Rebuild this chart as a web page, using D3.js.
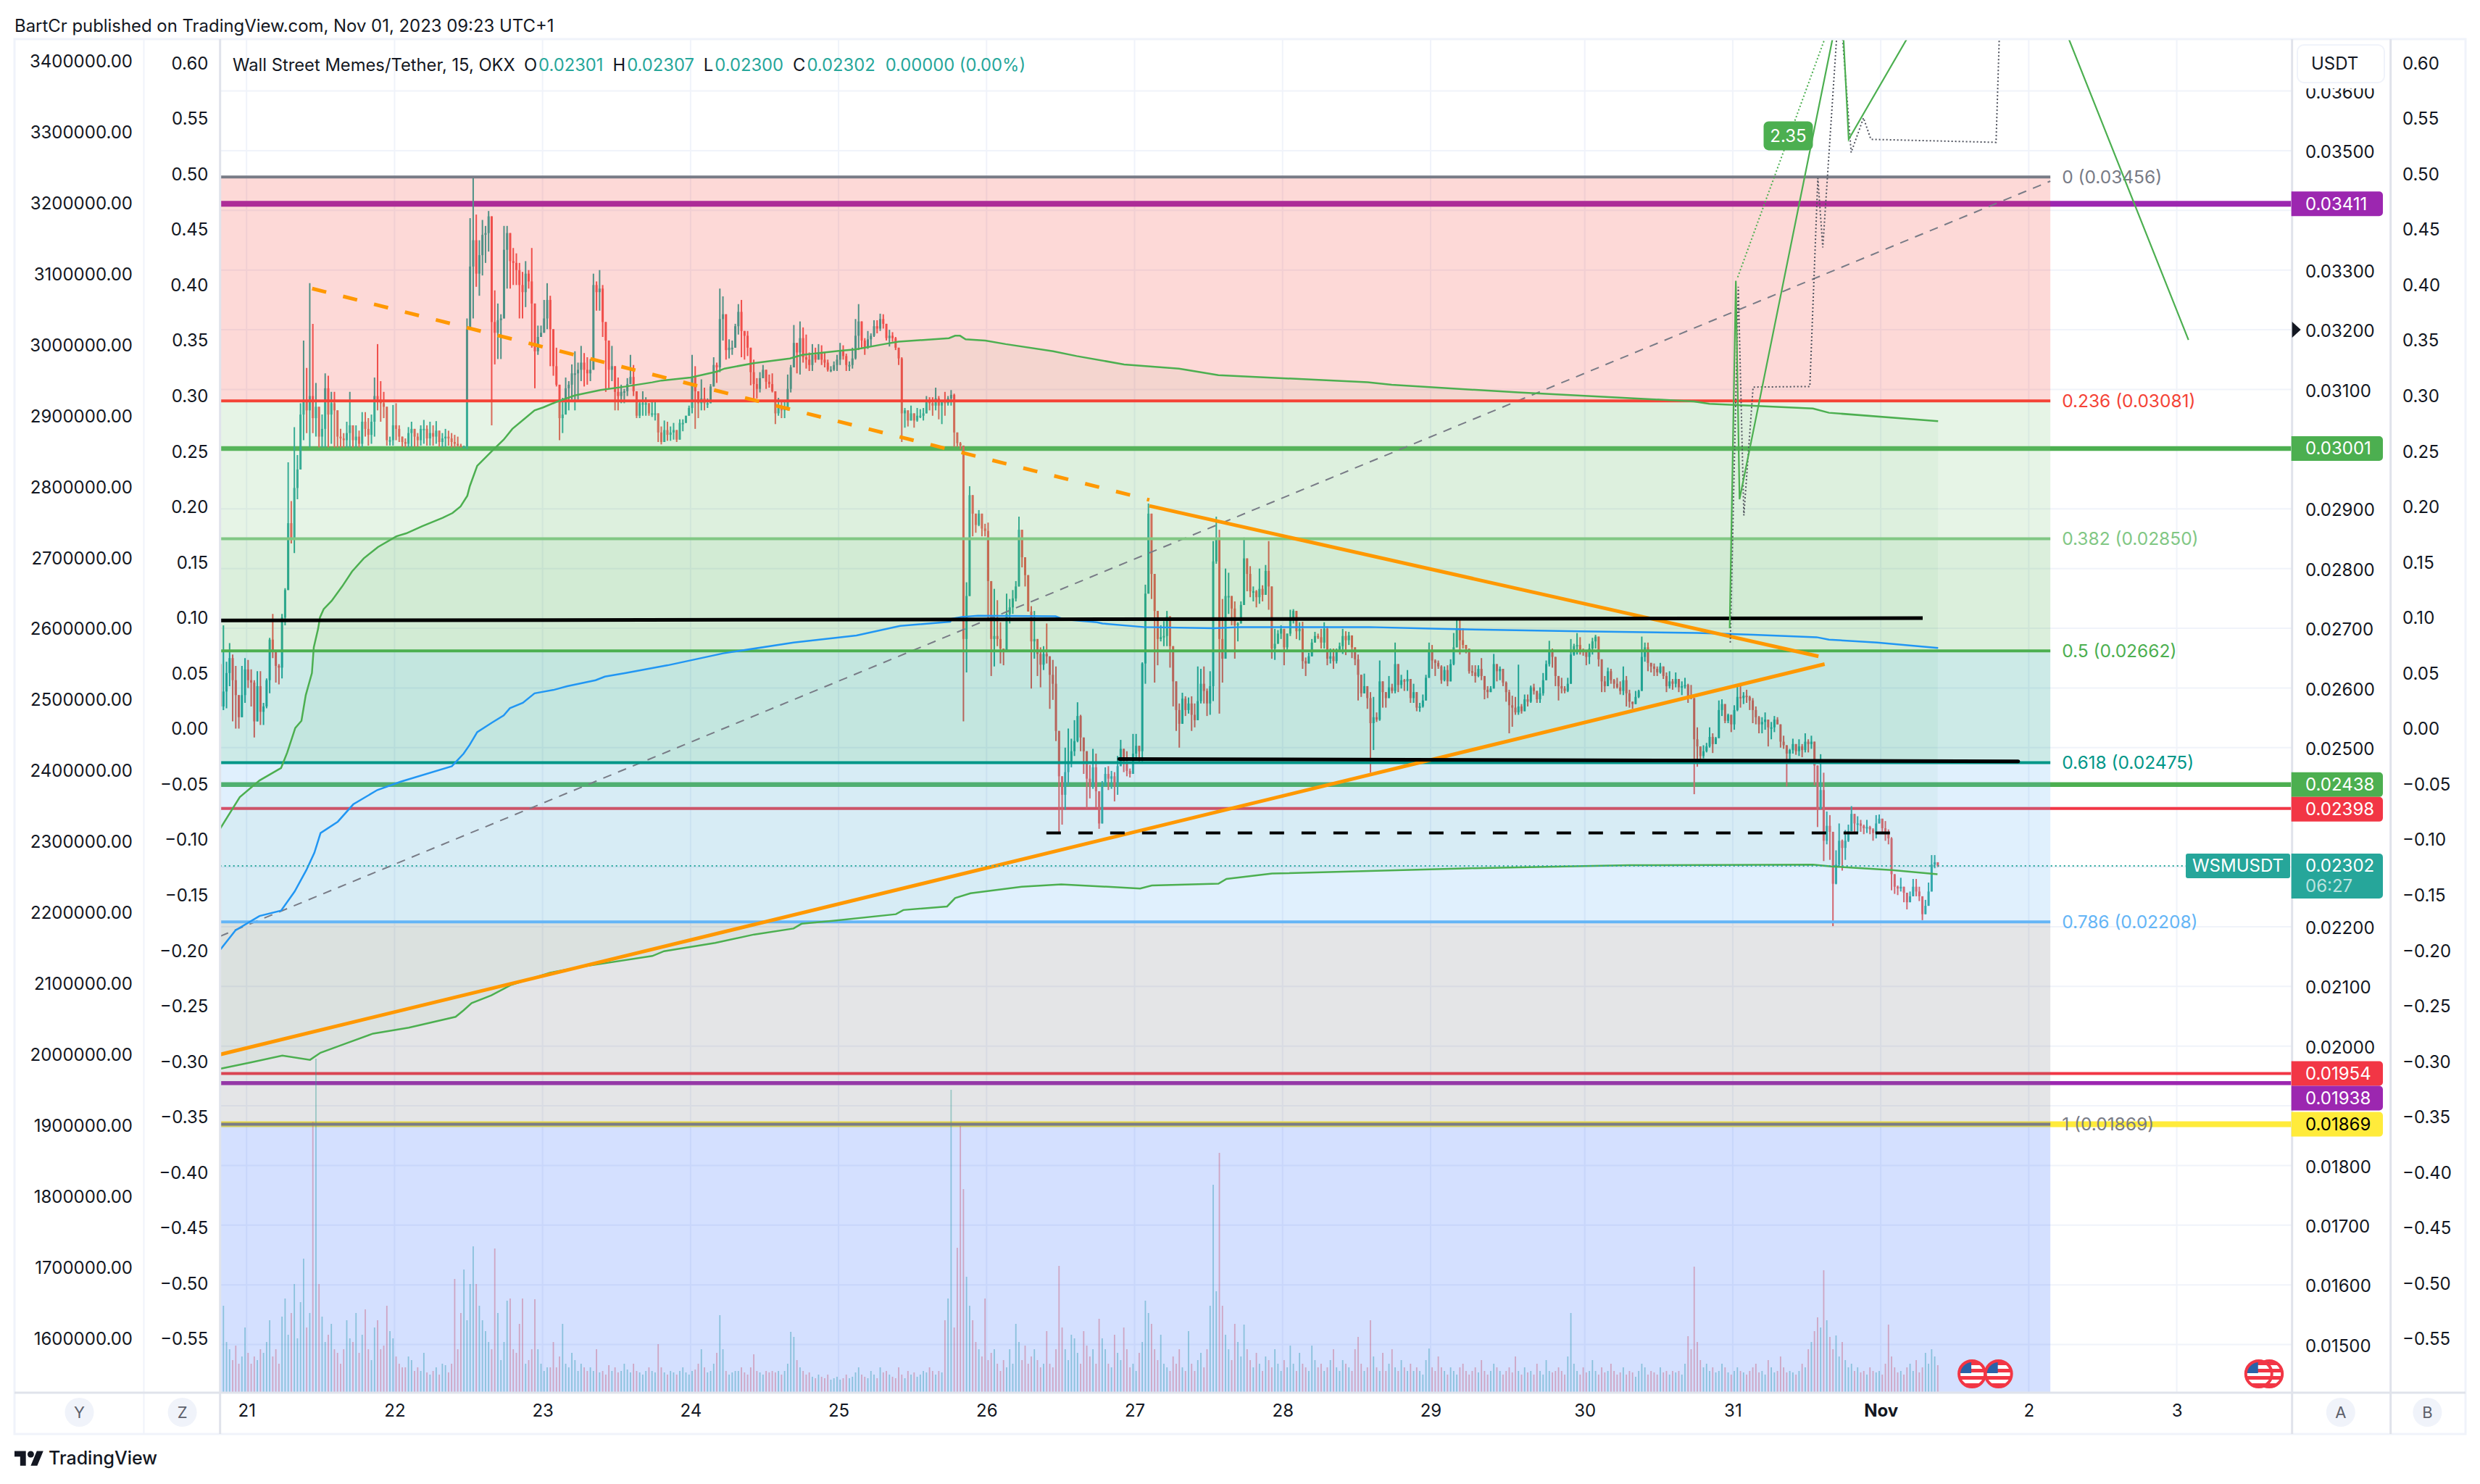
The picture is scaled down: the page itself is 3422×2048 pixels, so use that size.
<!DOCTYPE html>
<html>
<head>
<meta charset="utf-8">
<script src="https://cdnjs.cloudflare.com/ajax/libs/d3/7.8.5/d3.min.js"></script>
<style>
  body { margin: 0; background: #fff; }
  text { font-family: Inter, "Noto Sans", sans-serif; }
</style>
</head>
<body>
<div id="chart"></div>
<script>
// All prices are in units of 0.00001 USDT. Times are hours after Oct 21 00:00 (UTC+1).
const dayTicks = [0, 24, 48, 72, 96, 120, 144, 168, 192, 217, 241, 265, 289, 313];
const dayLabels = ['21', '22', '23', '24', '25', '26', '27', '28', '29', '30', '31', 'Nov', '2', '3'];
const priceTicks = d3.range(1500, 3601, 100);
const leftTicks = d3.range(1600000, 3400001, 100000);
const ratioTicks = d3.range(-11, 13).map(d => d * 5 / 100);

// 30 minute candles, the first one is centred on hour -4.25
const firstCandleHour = -4.25;
const candleStep = 0.5;
const firstOpen = 2640;
const candleHigh = [
  2681,2705,2644,2675,2656,2637,2588,2637,2650,2647,2631,2613,2628,2628,2575,2616,2684,2724,2656,2640,
  2724,2767,2978,2913,3037,2990,3077,3182,3136,3278,3210,3111,3071,3058,3127,3123,3096,3096,3037,3034,
  3027,3046,3096,3040,3040,3031,3062,3062,3052,3058,3120,3176,3114,3096,3058,3021,3074,3077,3040,3021,
  3018,3037,3046,3034,3027,3040,3049,3040,3046,3040,3047,3021,3027,3034,3031,3027,3024,3021,3009,3006,
  3219,3387,3455,3393,3350,3384,3374,3399,3387,3266,3244,3226,3374,3374,3362,3337,3328,3312,3297,3315,
  3300,3337,3188,3207,3207,3250,3278,3257,3198,3170,3105,3086,3120,3114,3142,3164,3145,3173,3161,3154,
  3151,3294,3281,3300,3275,3195,3145,3173,3114,3120,3108,3101,3119,3158,3141,3081,3081,3097,3087,3077,
  3081,3079,3054,3038,3048,3046,3038,3044,3032,3050,3050,3056,3073,3158,3139,3081,3117,3103,3085,3109,
  3154,3145,3269,3256,3218,3184,3182,3210,3243,3250,3198,3198,3164,3150,3119,3129,3141,3127,3125,3127,
  3097,3086,3079,3081,3125,3141,3208,3176,3214,3204,3192,3162,3176,3170,3176,3174,3162,3150,3139,3147,
  3158,3178,3174,3160,3147,3170,3218,3243,3198,3186,3198,3194,3216,3216,3227,3226,3198,3200,3196,3188,
  3168,3154,3069,3065,3073,3060,3069,3067,3069,3089,3087,3087,3103,3089,3081,3096,3089,3099,3093,3022,
  3012,3006,2777,2938,2923,2888,2898,2892,2875,2877,2779,2766,2747,2710,2666,2758,2749,2764,2779,2887,
  2865,2819,2789,2737,2729,2682,2668,2670,2708,2647,2647,2636,2528,2438,2500,2532,2515,2546,2576,2555,
  2513,2494,2471,2498,2490,2421,2444,2467,2469,2461,2459,2486,2513,2492,2494,2465,2523,2523,2503,2643,
  2773,2909,2865,2779,2708,2705,2712,2729,2716,2649,2611,2574,2592,2586,2584,2586,2574,2636,2632,2636,
  2599,2628,2846,2887,2865,2749,2800,2793,2754,2745,2710,2745,2852,2817,2804,2770,2764,2800,2772,2806,
  2846,2739,2699,2697,2705,2691,2691,2731,2732,2703,2710,2711,2651,2659,2682,2694,2691,2699,2710,2703,
  2666,2666,2666,2676,2699,2695,2694,2680,2668,2656,2622,2624,2603,2593,2585,2559,2646,2611,2593,2620,
  2607,2676,2626,2622,2615,2630,2613,2607,2577,2575,2589,2622,2676,2672,2648,2646,2638,2636,2638,2648,
  2692,2715,2715,2700,2672,2666,2638,2638,2638,2650,2613,2603,2603,2657,2636,2636,2632,2611,2597,2587,
  2585,2639,2573,2589,2589,2604,2607,2593,2601,2625,2646,2679,2666,2646,2620,2617,2603,2617,2682,2674,
  2692,2685,2666,2660,2674,2684,2689,2682,2648,2620,2634,2632,2615,2617,2611,2636,2620,2597,2577,2595,
  2597,2686,2676,2676,2640,2641,2636,2642,2632,2626,2628,2615,2626,2615,2611,2617,2607,2605,2583,2534,
  2502,2504,2508,2534,2524,2518,2579,2581,2573,2557,2555,2571,2603,2607,2593,2597,2587,2583,2569,2553,
  2551,2559,2541,2543,2553,2551,2539,2520,2504,2498,2515,2502,2514,2506,2524,2514,2520,2510,2470,2489,
  2458,2393,2387,2328,2328,2373,2346,2362,2371,2402,2389,2385,2379,2371,2379,2369,2365,2387,2388,2377,
  2377,2363,2350,2280,2269,2282,2267,2255,2259,2280,2280,2267,2243,2245,2274,2320,2320,2306
];
const candleLow = [
  2551,2563,2566,2603,2544,2532,2532,2551,2575,2600,2569,2517,2578,2538,2538,2566,2591,2650,2609,2606,
  2616,2705,2842,2842,2826,2916,2972,3015,3027,3003,3027,3021,3003,3003,3003,3003,3009,3003,3003,3003,
  3003,3003,3003,3003,3003,3003,3003,3021,3006,3009,3021,3065,3046,3052,3006,3006,3006,3015,3012,3004,
  3003,3003,3004,3004,3004,3006,3009,3006,3006,3006,3009,3004,3003,3004,3006,3003,3003,3004,3003,3003,
  3000,3201,3219,3272,3257,3291,3312,3331,3040,3142,3151,3151,3263,3269,3269,3275,3275,3219,3219,3238,
  3269,3170,3102,3158,3188,3195,3201,3139,3123,3105,3015,3027,3083,3065,3083,3065,3083,3114,3105,3108,
  3114,3195,3232,3232,3188,3096,3102,3114,3065,3065,3077,3077,3089,3109,3089,3052,3052,3056,3056,3056,
  3054,3048,3012,3008,3012,3014,3014,3016,3012,3028,3030,3048,3060,3060,3034,3052,3065,3065,3069,3081,
  3113,3111,3129,3182,3150,3152,3158,3170,3192,3154,3150,3156,3107,3085,3085,3095,3121,3101,3103,3095,
  3042,3056,3052,3052,3065,3095,3141,3127,3125,3145,3135,3131,3131,3145,3150,3141,3137,3130,3129,3131,
  3131,3141,3150,3131,3131,3135,3150,3166,3170,3158,3168,3172,3188,3194,3198,3202,3182,3172,3180,3166,
  3141,3012,3036,3038,3048,3036,3046,3052,3048,3067,3065,3056,3065,3050,3042,3056,3073,3073,3004,3004,
  3000,2544,2626,2850,2854,2860,2871,2854,2854,2712,2620,2636,2670,2641,2638,2680,2708,2724,2745,2796,
  2802,2770,2728,2599,2649,2620,2601,2630,2641,2565,2580,2511,2356,2371,2396,2436,2467,2486,2509,2494,
  2456,2398,2415,2431,2400,2364,2373,2436,2429,2431,2410,2421,2473,2459,2452,2450,2456,2480,2475,2477,
  2607,2819,2749,2609,2638,2678,2670,2670,2634,2569,2528,2500,2553,2553,2557,2528,2534,2546,2574,2574,
  2553,2555,2578,2808,2557,2609,2670,2724,2705,2649,2678,2708,2739,2762,2752,2745,2735,2741,2745,2770,
  2731,2649,2647,2676,2682,2638,2664,2687,2708,2682,2680,2632,2620,2641,2662,2676,2682,2666,2666,2638,
  2641,2632,2641,2662,2657,2655,2672,2650,2638,2579,2585,2591,2565,2458,2496,2543,2545,2567,2567,2583,
  2591,2591,2593,2599,2595,2595,2575,2575,2561,2560,2567,2589,2628,2632,2620,2632,2607,2611,2603,2632,
  2638,2668,2656,2666,2658,2624,2620,2609,2618,2613,2581,2583,2593,2599,2611,2613,2603,2577,2524,2535,
  2555,2555,2557,2571,2569,2575,2589,2575,2575,2587,2613,2636,2634,2603,2579,2591,2591,2593,2607,2654,
  2656,2656,2654,2638,2640,2656,2666,2636,2593,2593,2603,2607,2599,2599,2589,2588,2569,2567,2565,2580,
  2583,2595,2644,2628,2626,2620,2620,2624,2615,2593,2599,2597,2601,2593,2588,2599,2575,2581,2422,2468,
  2480,2482,2492,2500,2491,2508,2516,2553,2541,2541,2526,2530,2561,2567,2573,2575,2563,2541,2539,2524,
  2524,2530,2502,2514,2526,2539,2500,2498,2435,2480,2490,2488,2486,2484,2492,2492,2498,2437,2367,2403,
  2310,2338,2312,2201,2271,2300,2294,2312,2342,2361,2359,2357,2359,2355,2357,2355,2344,2348,2373,2357,
  2344,2338,2261,2255,2253,2259,2241,2229,2241,2253,2251,2243,2211,2223,2235,2270,2298,2300
];
const candleClose = [
  2569,2594,2625,2650,2613,2588,2551,2588,2631,2613,2609,2544,2603,2560,2569,2613,2681,2662,2637,2634,
  2718,2764,2876,2851,2935,2966,3058,3083,3065,3089,3052,3071,3021,3034,3102,3058,3077,3065,3021,3018,
  3015,3027,3040,3015,3021,3009,3046,3034,3024,3046,3089,3083,3077,3071,3015,3015,3040,3034,3021,3012,
  3009,3027,3034,3021,3015,3034,3034,3018,3027,3021,3031,3012,3018,3021,3018,3012,3009,3006,3004,3004,
  3201,3306,3350,3294,3325,3359,3362,3390,3213,3195,3216,3219,3334,3362,3315,3312,3300,3275,3263,3294,
  3281,3244,3164,3188,3195,3219,3250,3201,3139,3108,3052,3058,3102,3108,3127,3127,3133,3145,3133,3127,
  3133,3275,3263,3269,3213,3182,3133,3139,3096,3089,3096,3097,3109,3121,3097,3056,3077,3077,3077,3060,
  3060,3060,3028,3012,3032,3024,3028,3032,3016,3044,3044,3056,3069,3121,3097,3077,3085,3077,3077,3105,
  3141,3137,3218,3226,3166,3170,3170,3206,3230,3198,3190,3170,3129,3109,3101,3119,3133,3113,3109,3097,
  3060,3069,3065,3069,3101,3137,3178,3162,3186,3154,3150,3141,3158,3150,3162,3150,3145,3133,3133,3141,
  3150,3166,3156,3141,3141,3152,3190,3214,3182,3170,3184,3190,3206,3202,3218,3210,3186,3190,3186,3170,
  3152,3060,3065,3048,3060,3048,3056,3056,3060,3081,3077,3073,3085,3073,3081,3077,3085,3091,3028,3010,
  3006,2682,2754,2923,2892,2873,2892,2867,2863,2779,2682,2687,2682,2666,2662,2724,2735,2750,2770,2865,
  2819,2789,2728,2678,2682,2657,2639,2657,2653,2622,2607,2528,2452,2421,2459,2477,2494,2511,2553,2517,
  2494,2448,2435,2467,2427,2373,2436,2456,2448,2452,2436,2469,2498,2473,2461,2456,2490,2503,2494,2641,
  2758,2892,2791,2729,2682,2685,2687,2720,2670,2611,2563,2540,2582,2563,2574,2555,2546,2578,2607,2595,
  2574,2603,2812,2850,2682,2649,2754,2754,2733,2705,2708,2739,2817,2791,2762,2762,2752,2766,2756,2796,
  2770,2666,2674,2691,2699,2668,2691,2716,2729,2695,2699,2645,2641,2653,2676,2687,2685,2676,2699,2649,
  2653,2645,2660,2670,2687,2680,2688,2668,2648,2622,2591,2603,2583,2541,2551,2547,2611,2593,2583,2601,
  2595,2640,2605,2613,2611,2615,2583,2593,2567,2569,2579,2617,2660,2646,2642,2636,2613,2630,2611,2640,
  2668,2700,2680,2672,2666,2628,2626,2620,2632,2620,2597,2593,2599,2640,2628,2632,2609,2593,2571,2567,
  2559,2569,2561,2581,2577,2601,2595,2581,2591,2613,2640,2660,2652,2620,2603,2599,2595,2607,2656,2670,
  2672,2664,2660,2652,2666,2678,2686,2648,2611,2603,2628,2613,2607,2601,2595,2613,2591,2577,2573,2585,
  2595,2652,2668,2642,2636,2632,2626,2636,2620,2603,2611,2607,2615,2601,2603,2605,2587,2583,2514,2502,
  2486,2494,2502,2518,2506,2516,2563,2573,2545,2555,2539,2563,2585,2583,2587,2585,2579,2563,2551,2539,
  2543,2547,2534,2534,2547,2539,2510,2504,2490,2496,2506,2494,2502,2496,2510,2506,2510,2470,2397,2429,
  2344,2369,2359,2272,2304,2344,2332,2344,2360,2389,2373,2373,2369,2365,2367,2363,2357,2373,2381,2365,
  2355,2348,2288,2267,2264,2267,2257,2241,2251,2267,2259,2251,2221,2235,2259,2304,2308,2302
];
const candleVolume = [
  154,120,70,60,45,65,40,50,90,55,40,50,45,60,55,70,100,50,60,40,
  105,130,80,110,150,75,125,185,90,110,374,461,150,105,70,80,95,60,55,40,
  60,100,75,70,110,55,80,115,60,45,90,100,60,65,120,85,75,50,40,35,
  35,50,45,30,35,30,55,28,25,30,35,25,40,38,28,40,157,60,110,170,
  100,150,202,150,120,100,85,70,60,199,110,45,70,127,130,60,55,95,130,40,
  45,60,129,60,40,30,35,35,70,35,50,95,40,35,55,45,30,40,35,30,
  35,30,60,28,30,25,38,30,35,28,30,40,32,28,40,30,28,25,30,35,
  30,28,67,35,28,25,30,28,25,30,35,28,25,30,32,40,60,35,28,30,
  40,55,107,60,30,25,28,30,30,35,28,25,35,53,30,28,25,30,28,30,
  28,30,25,30,40,84,77,45,35,30,25,28,22,20,25,22,20,25,18,20,
  22,18,20,25,20,22,28,35,25,22,20,30,25,20,35,28,30,25,22,20,
  35,25,20,30,25,28,22,25,30,28,35,30,25,30,28,100,130,418,90,200,
  368,281,160,120,100,70,60,50,130,45,55,60,40,30,45,35,60,40,95,70,
  45,65,40,50,60,45,35,40,85,40,35,60,175,90,60,45,80,75,55,40,
  85,65,50,60,40,102,75,60,40,35,80,55,45,90,60,35,40,30,55,70,
  127,110,95,60,45,80,40,35,30,50,40,60,35,30,85,40,30,45,55,35,
  60,120,287,140,331,120,80,60,45,95,70,50,94,60,45,35,55,40,30,50,
  45,35,60,40,30,45,35,65,40,30,55,40,35,30,65,45,35,40,30,35,
  45,60,35,30,45,40,35,30,60,77,40,30,35,100,50,35,30,55,30,40,
  60,35,30,45,35,30,40,30,35,30,25,45,61,35,30,50,35,30,25,35,
  30,25,35,40,30,25,30,35,28,45,30,25,30,40,35,30,25,30,35,28,
  50,30,25,35,28,30,25,40,30,25,45,30,28,30,35,30,25,50,110,40,
  30,25,35,28,30,45,30,25,35,28,30,40,30,25,28,35,25,30,28,22,
  30,40,35,25,30,28,25,35,28,30,25,30,28,30,25,40,78,60,174,70,
  45,35,40,30,35,28,30,40,35,28,25,30,35,30,28,25,30,35,40,28,
  30,25,45,35,28,30,50,35,28,30,28,25,30,40,35,60,70,85,104,90,
  169,100,77,60,79,50,70,45,35,40,30,35,28,30,25,35,30,28,30,25,
  40,94,50,35,28,30,25,35,40,30,45,28,35,55,40,60,50,38
];

// Moving averages
const upperHours = [-4.3,-1.1,2.1,5.6,6.6,7.9,8.9,9.6,10.6,10.9,11.6,11.9,12.5,13.8,15.5,17.1,19,21.3,24.3,25.9,28.5,31.8,33.4,34.7,35.8,36.2,37.4,39.8,41.7,43.1,45.2,46.7,48.1,50.2,53.2,57.4,61.5,65.8,67.3,72,76.3,77.5,82.2,88.1,90.1,96.3,98.7,103.4,105.7,113.9,114.9,115.7,116.6,119.8,123.1,130.8,134.6,142.3,151.2,157.6,181.8,185.7,206.2,234.7,237.2,254,256.6,274.3];
const upperValues = [2364,2417,2445,2466,2492,2533,2545,2588,2625,2668,2699,2718,2732,2746,2770,2795,2817,2836,2854,2859,2871,2885,2893,2904,2922,2938,2972,2997,3016,3034,3052,3065,3070,3079,3090,3099,3105,3112,3115,3120,3130,3135,3144,3152,3158,3165,3167,3176,3180,3186,3190,3190,3184,3182,3176,3164,3156,3142,3135,3124,3112,3108,3095,3080,3076,3068,3061,3047];
const blueHours = [-4.3,-1.8,2.1,5.6,7.8,9.7,11,12,14.8,17.3,21.2,25,33.3,35.2,36.2,37.4,39.8,41.7,42.7,44.8,46.7,49.9,52,56.6,58.1,61.5,68.3,77.3,88.7,98.9,106,114.1,114.4,116,118.6,131.2,132.5,137.9,138.8,145.5,156.9,161.1,182,193.3,216.3,235.2,244.4,254.6,256.6,264.4,274.3];
const blueValues = [2161,2194,2218,2227,2259,2295,2324,2357,2376,2405,2429,2443,2469,2490,2505,2526,2542,2554,2566,2575,2591,2597,2603,2613,2619,2625,2638,2658,2676,2688,2704,2711,2716,2719,2721,2720,2715,2710,2708,2702,2700,2702,2702,2699,2695,2692,2689,2685,2681,2676,2667];
const lowerHours = [-4.3,0.8,5.8,10.3,12,16,20.5,26.3,33.9,35.2,36.5,39.7,42.8,49.2,54.4,65.8,67.7,76,82.3,88.7,90,95.1,105.3,106.5,113.6,114.9,117.4,125.7,132.1,144.9,146.8,157.6,158.9,166.3,198.5,224.3,254,257,266.8,274.2];
const lowerValues = [1962,1973,1984,1977,1989,2004,2021,2031,2049,2060,2072,2085,2102,2123,2133,2151,2159,2173,2187,2197,2205,2210,2221,2228,2234,2248,2256,2267,2271,2264,2269,2272,2280,2289,2298,2303,2304,2301,2295,2288];

// Projection drawings, some points sit above the visible pane
const projectionHours = [240.5,241.5,242.1,258.6,259.8,284.8,314.9];
const projectionValues = [2700,3282,2916,3760,3519,3965,3183];
const dottedHours = [240.6,241.9,242.8,244.3,253.5,254.8,255.6,258.3,260.2,262.2,263.4,283.7,284.4];
const dottedValues = [2676,3272,2889,3104,3105,3454,3338,3760,3497,3555,3519,3514,3750];
const dottedGreenHours = [241.8,255.9];
const dottedGreenValues = [3288,3687];

// Trend lines as [hour, price, hour, price]
const wedgeDashed = [10.64, 3269, 146.4, 2915];
const wedgeUpper = [146.4, 2905, 254.9, 2653];
const wedgeLower = [-4.29, 1986, 255.9, 2640];
const blackUpper = [-4.29, 2713, 271.8, 2717];
const blackLower = [141.5, 2481, 287.3, 2477];
const blackDashed = [129.7, 2357, 266.5, 2357];
const fibTrend = [-4.29, 2184, 292.5, 3449];

// Fibonacci retracement
const fibRatios = ['0', '0.236', '0.382', '0.5', '0.618', '0.786', '1'];
const fibPrices = [3456, 3081, 2850, 2662, 2475, 2208, 1869, 888];
const fibEndHour = 292.5;

// Horizontal lines with price scale tags
const hlinePrices = [3411, 3001, 2438, 2398, 1954, 1938, 1869];
const lastPrice = 2302;
const eventHours = [284.1, 279.8, 328, 326.3];

const legendTitle = 'Wall Street Memes/Tether, 15, OKX';
const legendKeys = ['O', 'H', 'L', 'C'];
const legendValues = ['0.02301', '0.02307', '0.02300', '0.02302'];
const legendChange = '0.00000 (0.00%)';

// Styling that goes with the series above
const upColor = '#26a69a';
const downColor = '#ef5350';
const fibColors = ['#787b86', '#f44336', '#81c784', '#4caf50', '#009688', '#64b5f6', '#787b86'];
const fibFills = ['#f44336', '#81c784', '#4caf50', '#009688', '#64b5f6', '#787b86', '#2962ff'];
const hlineColors = ['#9c27b0', '#4caf50', '#4caf50', '#f23645', '#f23645', '#9c27b0', '#ffeb3b'];
const hlineWidths = [8, 6.5, 6.5, 4, 4, 5.5, 8];
const textColor = '#131722';
const gridColor = '#f0f3fa';
const borderColor = '#e0e3eb';

const width = 3422;
const height = 2048;
const pane = { left: 303.7, right: 3162.7, top: 54, bottom: 1922 };
const footerBottom = 1979;

const svg = d3.select('#chart').append('svg')
  .attr('width', width)
  .attr('height', height)
  .style('display', 'block');

const x = d3.scaleLinear().domain([-4.29, 331.7]).range([pane.left, pane.right]);
const yPrice = d3.scaleLinear().domain([3686.9, 1419.4]).range([pane.top, pane.bottom]);
const yVolume = d3.scaleLinear().domain([0, 1000]).range([pane.bottom, pane.bottom - 1000]);
const yLeft = d3.scaleLinear().domain([3400000, 1600000]).range([84.8, 1847.6]);
const yRatio = d3.scaleLinear().domain([0.6, -0.55]).range([87.4, 1848.3]);

svg.append('clipPath').attr('id', 'pane-clip').append('rect')
  .attr('x', pane.left).attr('y', pane.top)
  .attr('width', pane.right - pane.left).attr('height', pane.bottom - pane.top);

const chart = svg.append('g').attr('clip-path', 'url(#pane-clip)');

// Grid
chart.append('g').selectAll('line').data(priceTicks).join('line')
  .attr('x1', pane.left).attr('x2', pane.right)
  .attr('y1', d => yPrice(d)).attr('y2', d => yPrice(d))
  .attr('stroke', gridColor).attr('stroke-width', 2);
chart.append('g').selectAll('line').data(dayTicks).join('line')
  .attr('x1', d => x(d)).attr('x2', d => x(d))
  .attr('y1', pane.top).attr('y2', pane.bottom)
  .attr('stroke', gridColor).attr('stroke-width', 2);

// Horizontal levels go below the candles, the fib fill tints both
chart.append('g').selectAll('line').data(hlinePrices).join('line')
  .attr('x1', pane.left).attr('x2', pane.right)
  .attr('y1', d => yPrice(d)).attr('y2', d => yPrice(d))
  .attr('stroke', (d, i) => hlineColors[i])
  .attr('stroke-width', (d, i) => hlineWidths[i]);

const candleHour = i => firstCandleHour + i * candleStep;
const candles = candleClose.map((close, i) => {
  const open = i === 0 ? firstOpen : candleClose[i - 1];
  return {
    hour: candleHour(i),
    open,
    close,
    high: Math.max(candleHigh[i], open, close),
    low: Math.min(candleLow[i], open, close),
    volume: candleVolume[i] || 0,
    color: close >= open ? upColor : downColor,
  };
});

chart.append('g').attr('opacity', 0.42).selectAll('rect').data(candles).join('rect')
  .attr('x', d => x(d.hour) - 0.9)
  .attr('width', 1.8)
  .attr('y', d => yVolume(d.volume))
  .attr('height', d => pane.bottom - yVolume(d.volume))
  .attr('fill', d => d.color);

const candleGroup = chart.append('g');
candleGroup.selectAll('line').data(candles).join('line')
  .attr('x1', d => x(d.hour)).attr('x2', d => x(d.hour))
  .attr('y1', d => yPrice(d.high)).attr('y2', d => yPrice(d.low))
  .attr('stroke', d => d.color).attr('stroke-width', 2);
candleGroup.selectAll('rect').data(candles).join('rect')
  .attr('x', d => x(d.hour) - 1.5)
  .attr('width', 3)
  .attr('y', d => yPrice(Math.max(d.open, d.close)))
  .attr('height', d => Math.max(2, Math.abs(yPrice(d.open) - yPrice(d.close))))
  .attr('fill', d => d.color);

const priceLine = d3.line().x(d => x(d[0])).y(d => yPrice(d[1]));
const upperPoints = d3.zip(upperHours, upperValues);
const lowerPoints = d3.zip(lowerHours, lowerValues);

// Band between the two outer averages
chart.append('path')
  .attr('d', priceLine(upperPoints.concat(lowerPoints.slice().reverse())) + 'Z')
  .attr('fill', '#4caf50').attr('fill-opacity', 0.06);

// Fib zones and levels
const fibX0 = x(-10);
const fibX1 = x(fibEndHour);
chart.append('g').selectAll('rect').data(fibFills).join('rect')
  .attr('x', fibX0).attr('width', fibX1 - fibX0)
  .attr('y', (d, i) => yPrice(fibPrices[i]))
  .attr('height', (d, i) => yPrice(fibPrices[i + 1]) - yPrice(fibPrices[i]))
  .attr('fill', d => d).attr('fill-opacity', 0.2);

drawSegment(fibTrend, '#787b86', 2, '12 10');

chart.append('g').selectAll('line').data(fibRatios).join('line')
  .attr('x1', fibX0).attr('x2', fibX1)
  .attr('y1', (d, i) => yPrice(fibPrices[i])).attr('y2', (d, i) => yPrice(fibPrices[i]))
  .attr('stroke', (d, i) => fibColors[i]).attr('stroke-width', 4);

chart.append('g').attr('font-size', 24.5).selectAll('text').data(fibRatios).join('text')
  .attr('x', fibX1 + 16)
  .attr('y', (d, i) => yPrice(fibPrices[i]))
  .attr('dy', '0.35em')
  .attr('fill', (d, i) => fibColors[i])
  .text((d, i) => `${d} (${(fibPrices[i] / 1e5).toFixed(5)})`);

// Averages on top of the fills
[[upperPoints, '#4caf50'], [lowerPoints, '#4caf50'], [d3.zip(blueHours, blueValues), '#2196f3']]
  .forEach(([points, color]) => {
    chart.append('path')
      .attr('d', priceLine(points))
      .attr('fill', 'none')
      .attr('stroke', color)
      .attr('stroke-width', 2.5);
  });

// Trend lines
drawSegment(wedgeDashed, '#ff9800', 5, '20 24');
drawSegment(wedgeUpper, '#ff9800', 5);
drawSegment(wedgeLower, '#ff9800', 5);
drawSegment(blackUpper, '#000', 5);
drawSegment(blackLower, '#000', 5).attr('stroke-linecap', 'round');
drawSegment(blackDashed, '#000', 4, '20 24');

// Projection
chart.append('path')
  .attr('d', priceLine(d3.zip(dottedHours, dottedValues)))
  .attr('fill', 'none').attr('stroke', '#50535e')
  .attr('stroke-width', 2).attr('stroke-dasharray', '2 3');
chart.append('path')
  .attr('d', priceLine(d3.zip(dottedGreenHours, dottedGreenValues)))
  .attr('fill', 'none').attr('stroke', '#4caf50')
  .attr('stroke-width', 2).attr('stroke-dasharray', '2 3');
chart.append('path')
  .attr('d', priceLine(d3.zip(projectionHours, projectionValues)))
  .attr('fill', 'none').attr('stroke', '#4caf50').attr('stroke-width', 2.2);

const bubble = chart.append('g').attr('transform', `translate(${x(250)},${yPrice(3525)})`);
bubble.append('rect')
  .attr('x', -34).attr('y', -20).attr('width', 68).attr('height', 40).attr('rx', 7)
  .attr('fill', '#4caf50');
bubble.append('text')
  .attr('text-anchor', 'middle').attr('dy', '0.35em')
  .attr('font-size', 24).attr('fill', '#fff').text('2.35');

// Last price line
chart.append('line')
  .attr('x1', pane.left).attr('x2', 3016)
  .attr('y1', yPrice(lastPrice)).attr('y2', yPrice(lastPrice))
  .attr('stroke', upColor).attr('stroke-width', 2).attr('stroke-dasharray', '2 4');

// Event flags at the foot of the pane
svg.append('clipPath').attr('id', 'flag-clip').append('circle').attr('r', 17);
const flags = chart.append('g').selectAll('g').data(eventHours).join('g')
  .attr('transform', d => `translate(${x(d)},1896)`);
flags.append('circle').attr('r', 18).attr('fill', '#fff');
const flagInner = flags.append('g').attr('clip-path', 'url(#flag-clip)');
flagInner.selectAll('rect.stripe').data([-17, -7, 3, 13]).join('rect')
  .attr('class', 'stripe')
  .attr('x', -18).attr('width', 36).attr('y', d => d).attr('height', 5)
  .attr('fill', '#f23645');
flagInner.append('rect')
  .attr('x', -18).attr('y', -18).attr('width', 17).attr('height', 17)
  .attr('fill', '#2962a8');
flags.append('circle').attr('r', 18)
  .attr('fill', 'none').attr('stroke', '#f23645').attr('stroke-width', 4);

// Frame
const frame = svg.append('g').attr('fill', 'none');
frame.append('rect')
  .attr('x', 20).attr('y', pane.top).attr('width', 3402 - 20).attr('height', footerBottom - pane.top)
  .attr('stroke', gridColor).attr('stroke-width', 3);
frame.append('line').attr('x1', 198.5).attr('x2', 198.5).attr('y1', pane.top).attr('y2', footerBottom)
  .attr('stroke', gridColor).attr('stroke-width', 2);
[pane.left, pane.right, 3298.7].forEach(px => {
  frame.append('line').attr('x1', px).attr('x2', px).attr('y1', pane.top).attr('y2', footerBottom)
    .attr('stroke', borderColor).attr('stroke-width', 3);
});
frame.append('line').attr('x1', 20).attr('x2', 3402).attr('y1', pane.bottom).attr('y2', pane.bottom)
  .attr('stroke', borderColor).attr('stroke-width', 3);

// Price tags, pushed apart when they would overlap
const tagHeight = 34;
const tags = hlinePrices
  .map((price, i) => ({ price, color: hlineColors[i], y: yPrice(price) }))
  .sort((a, b) => a.y - b.y);
tags.forEach((t, i) => {
  if (i > 0 && t.y < tags[i - 1].y + tagHeight) t.y = tags[i - 1].y + tagHeight;
});

// Tick labels that a tag would hide are not drawn
const tagSpans = tags.map(t => t.y).concat(yPrice(lastPrice));
const visiblePriceTicks = priceTicks.filter(d => tagSpans.every(y => Math.abs(yPrice(d) - y) > tagHeight / 2 + 4));

// Axes
function styleAxis(g) {
  g.attr('font-size', 24).attr('font-family', 'Inter, "Noto Sans", sans-serif');
  g.select('.domain').remove();
  g.selectAll('.tick line').remove();
  g.selectAll('.tick text').attr('fill', textColor);
}

svg.append('g').attr('transform', 'translate(183,0)')
  .call(d3.axisLeft(yLeft).tickValues(leftTicks).tickSize(0).tickPadding(0).tickFormat(d3.format('.2f')))
  .call(styleAxis);
svg.append('g').attr('transform', 'translate(287.4,0)')
  .call(d3.axisLeft(yRatio).tickValues(ratioTicks).tickSize(0).tickPadding(0).tickFormat(d3.format('.2f')))
  .call(styleAxis);
svg.append('g').attr('transform', 'translate(3315,0)')
  .call(d3.axisRight(yRatio).tickValues(ratioTicks).tickSize(0).tickPadding(0).tickFormat(d3.format('.2f')))
  .call(styleAxis);
svg.append('g').attr('transform', 'translate(3181,2)')
  .call(d3.axisRight(yPrice).tickValues(visiblePriceTicks).tickSize(0).tickPadding(0).tickFormat(d => (d / 1e5).toFixed(5)))
  .call(styleAxis);
svg.append('g').attr('transform', `translate(0,${pane.bottom + 10})`)
  .call(d3.axisBottom(x).tickValues(dayTicks).tickSize(0).tickPadding(6).tickFormat((d, i) => dayLabels[i]))
  .call(styleAxis)
  .selectAll('.tick text')
  .attr('font-weight', (d, i) => dayLabels[i] === 'Nov' ? 700 : 400);

// Currency button sits over the top of the price scale
svg.append('rect')
  .attr('x', pane.right + 2).attr('y', pane.top + 2)
  .attr('width', 3298.7 - pane.right - 4).attr('height', 66)
  .attr('fill', '#fff');
svg.append('rect')
  .attr('x', 3170).attr('y', 62).attr('width', 120).attr('height', 52).attr('rx', 9)
  .attr('fill', '#fff').attr('stroke', gridColor).attr('stroke-width', 2);
svg.append('text')
  .attr('x', 3189).attr('y', 88).attr('dy', '0.35em')
  .attr('font-size', 24).attr('fill', textColor).text('USDT');

svg.append('path')
  .attr('d', `M0,-11L12,0L0,11Z`)
  .attr('transform', `translate(${pane.right},${yPrice(3200)})`)
  .attr('fill', textColor);

const tagPath = (y0, h) => {
  const p = d3.path();
  const x0 = pane.right - 1, x1 = 3288, r = 5;
  p.moveTo(x0, y0);
  p.lineTo(x1 - r, y0);
  p.arcTo(x1, y0, x1, y0 + r, r);
  p.lineTo(x1, y0 + h - r);
  p.arcTo(x1, y0 + h, x1 - r, y0 + h, r);
  p.lineTo(x0, y0 + h);
  p.closePath();
  return p.toString();
};

const tagGroup = svg.append('g').selectAll('g').data(tags).join('g');
tagGroup.append('path')
  .attr('d', d => tagPath(d.y - tagHeight / 2, tagHeight))
  .attr('fill', d => d.color);
tagGroup.append('text')
  .attr('x', 3181).attr('y', d => d.y).attr('dy', '0.35em')
  .attr('font-size', 24)
  .attr('fill', d => d.color === '#ffeb3b' ? '#000' : '#fff')
  .text(d => (d.price / 1e5).toFixed(5));

// Last price tags
const lastY = yPrice(lastPrice);
svg.append('path').attr('d', tagPath(lastY - 17, 62)).attr('fill', upColor);
svg.append('text')
  .attr('x', 3181).attr('y', lastY).attr('dy', '0.35em')
  .attr('font-size', 24).attr('fill', '#fff')
  .text((lastPrice / 1e5).toFixed(5));
svg.append('text')
  .attr('x', 3181).attr('y', lastY + 28).attr('dy', '0.35em')
  .attr('font-size', 24).attr('fill', '#fff').attr('fill-opacity', 0.7)
  .text('06:27');
svg.append('rect')
  .attr('x', 3016).attr('y', lastY - 17).attr('width', 144).attr('height', 34).attr('rx', 3)
  .attr('fill', upColor);
svg.append('text')
  .attr('x', 3088).attr('y', lastY).attr('dy', '0.35em')
  .attr('text-anchor', 'middle')
  .attr('font-size', 24).attr('fill', '#fff').text('WSMUSDT');

// Corner buttons of the scales
const scaleButtons = [['Y', 109.5], ['Z', 251.6], ['A', 3229.8], ['B', 3349.4]];
const buttons = svg.append('g').selectAll('g').data(scaleButtons).join('g')
  .attr('transform', d => `translate(${d[1]},1949)`);
buttons.append('circle').attr('r', 20).attr('fill', gridColor);
buttons.append('text')
  .attr('text-anchor', 'middle').attr('dy', '0.35em')
  .attr('font-size', 22).attr('fill', '#5d606b')
  .text(d => d[0]);

// Header, legend, footer
svg.append('text')
  .attr('x', 20).attr('y', 36).attr('dy', '0.35em')
  .attr('font-size', 23.9).attr('fill', textColor)
  .text('BartCr published on TradingView.com, Nov 01, 2023 09:23 UTC+1');

const legend = svg.append('text')
  .attr('x', 321).attr('y', 90).attr('dy', '0.35em')
  .attr('font-size', 23.75).attr('fill', textColor);
legend.append('tspan').text(legendTitle);
legendKeys.forEach((key, i) => {
  legend.append('tspan').attr('dx', 13).text(key);
  legend.append('tspan').attr('dx', 2).attr('fill', upColor).text(legendValues[i]);
});
legend.append('tspan').attr('dx', 14).attr('fill', upColor).text(legendChange);

const logo = svg.append('g').attr('transform', 'translate(20,1998) scale(1.12)').attr('fill', textColor);
logo.append('path').attr('d', 'M14 22H7V11H0V4h14v18zM28 22h-8l7.5-18h8L28 22z');
logo.append('circle').attr('cx', 20).attr('cy', 8).attr('r', 4);
svg.append('text')
  .attr('x', 67).attr('y', 2012).attr('dy', '0.35em')
  .attr('font-size', 25).attr('font-weight', 500).attr('fill', textColor)
  .text('TradingView');

function drawSegment(seg, color, strokeWidth, dash) {
  const line = chart.append('path')
    .attr('d', priceLine([[seg[0], seg[1]], [seg[2], seg[3]]]))
    .attr('fill', 'none')
    .attr('stroke', color)
    .attr('stroke-width', strokeWidth);
  if (dash) line.attr('stroke-dasharray', dash);
  return line;
}
</script>
</body>
</html>
